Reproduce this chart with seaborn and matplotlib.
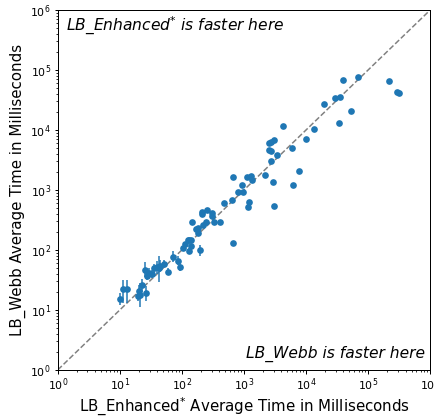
import numpy as np
import pandas as pd
import matplotlib
matplotlib.use("Agg")
import matplotlib.pyplot as plt
import seaborn as sns

# Average times (ms)
enhanced_ms = [39800, 67600, 219000, 295000, 316000, 19500, 29500, 34700, 53700, 33900,
               4170, 13500, 10000, 2570, 2750, 3020, 2570, 2690, 6030, 3390,
               2690, 7760, 6170, 2880, 2190, 661, 933, 1100, 1290, 1350,
               813, 955, 646, 468, 1200, 1150, 3020, 251, 214, 209,
               309, 302, 145, 324, 417, 240, 219, 182, 170, 182,
               661, 123, 129, 141, 112, 105, 138, 129, 195, 71,
               87, 93, 51, 59, 45, 39, 35, 25, 29, 33,
               43, 27, 23, 20, 21, 19.5, 26, 10.2, 11.2, 13.2]
webb_ms = [67600, 77600, 66100, 42700, 40700, 27500, 33900, 35500, 20900, 12900,
           11500, 10500, 7080, 6170, 6310, 6920, 4680, 4470, 5010, 3800,
           3020, 2040, 1230, 1380, 1780, 1620, 1230, 1620, 1700, 1450,
           912, 933, 676, 603, 617, 513, 537, 468, 427, 389,
           417, 372, 295, 295, 295, 288, 263, 229, 219, 191,
           132, 148, 148, 148, 126, 107, 117, 95, 98, 76,
           66, 51, 59, 43, 54, 51, 49, 47, 41, 40,
           49, 36, 26, 21, 18, 17, 19, 15, 22, 22]
# error bars (ms) below / above, zero where none is visible
err_lo = [0] * 57 + [10, 18, 14,
          10, 6, 8, 5, 11, 12, 8, 12, 7, 6,
          20, 5, 6, 4, 7, 3, 5, 3, 9, 9]
err_hi = [0] * 57 + [12, 22, 18,
          12, 7, 10, 6, 14, 14, 9, 16, 8, 7,
          30, 6, 7, 5, 10, 4, 6, 4, 10, 10]

df = pd.DataFrame({"enhanced": enhanced_ms, "webb": webb_ms})

sns.set_style("ticks")
plt.rcParams["text.color"] = "black"
plt.rcParams["axes.labelcolor"] = "black"
fig = plt.figure(figsize=(435 / 72, 416 / 72), dpi=72)
ax = fig.add_axes([0.133, 0.111, 0.856, 0.865])

ax.plot([1, 1e6], [1, 1e6], linestyle="--", color="gray", linewidth=1.5, zorder=1)
ax.errorbar(df["enhanced"], df["webb"], yerr=[err_lo, err_hi], fmt="none",
            ecolor="#1f77b4", elinewidth=1.5, zorder=2)
sns.scatterplot(data=df, x="enhanced", y="webb", ax=ax, color="#1f77b4",
                s=45, linewidth=0, zorder=3)

ax.set_xscale("log")
ax.set_yscale("log")
ax.set_xlim(1, 1e6)
ax.set_ylim(1, 1e6)
ax.set_xticks([10**i for i in range(7)])
ax.set_yticks([10**i for i in range(7)])
ax.xaxis.set_minor_locator(matplotlib.ticker.LogLocator(base=10, subs=np.arange(2, 10), numticks=20))
ax.yaxis.set_minor_locator(matplotlib.ticker.LogLocator(base=10, subs=np.arange(2, 10), numticks=20))
ax.xaxis.set_minor_formatter(matplotlib.ticker.NullFormatter())
ax.yaxis.set_minor_formatter(matplotlib.ticker.NullFormatter())
for s in ax.spines.values():
    s.set_color("black")
    s.set_linewidth(1)
ax.tick_params(which="major", labelsize=11, colors="black", length=3.5, width=1)
ax.tick_params(which="minor", colors="black", length=2, width=0.8)

ax.set_xlabel("LB_Enhanced$^{*}$ Average Time in Milliseconds", fontsize=15, labelpad=2)
ax.set_ylabel("LB_Webb Average Time in Milliseconds", fontsize=15)
ax.text(0.022, 0.985, "LB_Enhanced$^{*}$ is faster here", transform=ax.transAxes,
        fontsize=15.5, fontstyle="italic", ha="left", va="top")
ax.text(0.985, 0.022, "LB_Webb is faster here", transform=ax.transAxes,
        fontsize=15.5, fontstyle="italic", ha="right", va="bottom")

fig.savefig("out.png", dpi=72)
